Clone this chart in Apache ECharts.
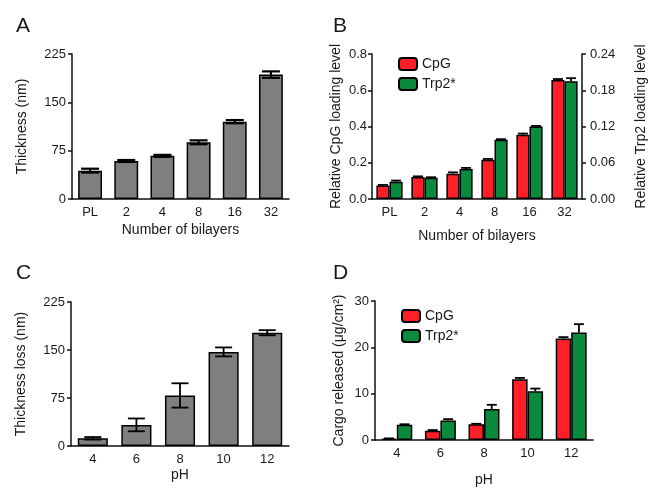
<!DOCTYPE html>
<html><head><meta charset="utf-8">
<script src="https://cdn.jsdelivr.net/npm/echarts@6/dist/echarts.min.js"></script>
<style>html,body{margin:0;padding:0;background:#fff}#c{width:649px;height:488px}</style>
</head><body><div id="c"></div>
<script>
// ---- data ----
const catsA = ['PL','2','4','8','16','32'];
const thickA = [44, 59, 67, 88, 120, 193];
const thickErrA = [3, 1.5, 1.5, 3, 2.5, 5];

const catsB = ['PL','2','4','8','16','32'];
const cpgB = [0.075, 0.122, 0.14, 0.216, 0.354, 0.657];
const cpgErrB = [0.003, 0.003, 0.007, 0.005, 0.007, 0.005];
const trp2B = [0.0285, 0.035, 0.0495, 0.098, 0.12, 0.195];
const trp2ErrB = [0.002, 0.001, 0.002, 0.001, 0.001, 0.005];

const catsC = ['4','6','8','10','12'];
const lossC = [12, 33, 79, 147, 177];
const lossErrC = [2, 10, 19, 7, 4];

const catsD = ['4','6','8','10','12'];
const cpgD = [0.3, 2.0, 3.4, 13.1, 21.9];
const cpgErrD = [0.05, 0.15, 0.1, 0.3, 0.3];
const trp2D = [3.3, 4.2, 6.7, 10.5, 23.2];
const trp2ErrD = [0.1, 0.3, 0.9, 0.6, 1.8];

const legendNames = ['CpG', 'Trp2*'];

// ---- styles ----
const FONT = 'Liberation Sans, Arial, sans-serif';
const TXT = '#1a1a1a';
const GREY = '#7f7f7f', RED = '#ff1f26', GREEN = '#0a8a3c';

function errSeries(name, xi, yi, vals, errs, off, capW, both, lw) {
  return {
    type: 'custom', name: name, xAxisIndex: xi, yAxisIndex: yi, z: 10,
    encode: {x: 0, y: 1},
    data: vals.map((v, i) => [i, v, errs[i]]),
    renderItem: function (params, api) {
      const i = api.value(0), v = api.value(1), e = api.value(2);
      const bw = api.size([1, 0])[0];
      const x = api.coord([i, v])[0] + bw * off;
      const yTop = api.coord([i, v + e])[1];
      const yBot = both ? api.coord([i, v - e])[1] : api.coord([i, v])[1];
      const st = {stroke: '#000', lineWidth: lw};
      const ch = [
        {type: 'line', shape: {x1: x, y1: yTop, x2: x, y2: yBot}, style: st},
        {type: 'line', shape: {x1: x - capW / 2, y1: yTop, x2: x + capW / 2, y2: yTop}, style: st}
      ];
      if (both) ch.push({type: 'line', shape: {x1: x - capW / 2, y1: yBot, x2: x + capW / 2, y2: yBot}, style: st});
      return {type: 'group', children: ch};
    }
  };
}

function catAxis(gi, data, nameGap) {
  return {
    type: 'category', gridIndex: gi, data: data,
    name: gi === 0 || gi === 1 ? 'Number of bilayers' : 'pH',
    nameLocation: 'middle', nameGap: nameGap,
    nameTextStyle: {fontFamily: FONT, fontSize: 14, color: TXT},
    axisLine: {lineStyle: {color: '#111', width: 1.5}},
    axisTick: {alignWithLabel: true, length: 4, lineStyle: {color: '#111', width: 1.5}},
    axisLabel: {fontFamily: FONT, fontSize: 13, color: TXT, margin: 7}
  };
}

function valAxis(gi, max, interval, name, nameGap, dec, pos, margin) {
  return {
    type: 'value', gridIndex: gi, min: 0, max: max, interval: interval,
    position: pos || 'left',
    name: name, nameLocation: 'middle', nameGap: nameGap, nameRotate: 90,
    nameTextStyle: {fontFamily: FONT, fontSize: 14, color: TXT},
    splitLine: {show: false},
    axisLine: {show: true, lineStyle: {color: '#111', width: 1.5}},
    axisTick: {show: true, length: 4, lineStyle: {color: '#111', width: 1.5}},
    axisLabel: {fontFamily: FONT, fontSize: 13, color: TXT, margin: margin,
      formatter: v => v.toFixed(dec)}
  };
}

const barStyle = c => ({color: c, borderColor: '#000', borderWidth: 1.5});

const option = {
  backgroundColor: '#fff',
  animation: false,
  title: [
    {text: 'A', left: 11, top: 11, textStyle: {fontFamily: FONT, fontSize: 21, fontWeight: 'normal', color: TXT}},
    {text: 'B', left: 328, top: 11, textStyle: {fontFamily: FONT, fontSize: 21, fontWeight: 'normal', color: TXT}},
    {text: 'C', left: 11, top: 258, textStyle: {fontFamily: FONT, fontSize: 21, fontWeight: 'normal', color: TXT}},
    {text: 'D', left: 328, top: 258, textStyle: {fontFamily: FONT, fontSize: 21, fontWeight: 'normal', color: TXT}}
  ],
  legend: [
    {data: legendNames, orient: 'vertical', left: 393, top: 52, itemWidth: 18, itemHeight: 12, itemGap: 6,
      textStyle: {fontFamily: FONT, fontSize: 14, color: TXT}, selectedMode: false},
    {data: legendNames, orient: 'vertical', left: 396, top: 304, itemWidth: 18, itemHeight: 12, itemGap: 6,
      textStyle: {fontFamily: FONT, fontSize: 14, color: TXT}, selectedMode: false}
  ],
  grid: [
    {left: 72, top: 54, width: 217, height: 145},
    {left: 372, top: 54, width: 217, height: 145},
    {left: 71, top: 302, width: 218, height: 144},
    {left: 375, top: 301, width: 218, height: 145}
  ],
  xAxis: [
    catAxis(0, catsA, 24),
    catAxis(1, catsB, 30),
    catAxis(2, catsC, 22),
    catAxis(3, catsD, 33)
  ],
  yAxis: [
    valAxis(0, 225, 75, 'Thickness (nm)', 43, 0, 'left', 6),
    valAxis(1, 0.8, 0.2, 'Relative CpG loading level', 29, 1, 'left', 5),
    valAxis(1, 0.24, 0.06, 'Relative Trp2 loading level', 52, 2, 'right', 8),
    valAxis(2, 225, 75, 'Thickness loss (nm)', 43, 0, 'left', 6),
    valAxis(3, 30, 10, 'Cargo released (\u03bcg/cm\u00b2)', 29, 0, 'left', 6)
  ],
  series: [
    {type: 'bar', name: 'thickness', xAxisIndex: 0, yAxisIndex: 0, data: thickA, barCategoryGap: '34%', itemStyle: barStyle(GREY)},
    errSeries('errA', 0, 0, thickA, thickErrA, 0, 18, true, 2.2),

    {type: 'bar', name: 'CpG', xAxisIndex: 1, yAxisIndex: 1, data: cpgB, barGap: '0%', barCategoryGap: '25%', itemStyle: barStyle(RED)},
    {type: 'bar', name: 'Trp2*', xAxisIndex: 1, yAxisIndex: 2, data: trp2B, barGap: '0%', barCategoryGap: '25%', itemStyle: barStyle(GREEN)},
    errSeries('errB1', 1, 1, cpgB, cpgErrB, -0.1875, 10, false, 1.8),
    errSeries('errB2', 1, 2, trp2B, trp2ErrB, 0.1875, 10, false, 1.8),

    {type: 'bar', name: 'loss', xAxisIndex: 2, yAxisIndex: 3, data: lossC, barCategoryGap: '31%', itemStyle: barStyle(GREY)},
    errSeries('errC', 2, 3, lossC, lossErrC, 0, 17, true, 1.8),

    {type: 'bar', name: 'CpG', xAxisIndex: 3, yAxisIndex: 4, data: cpgD, barGap: '0%', barCategoryGap: '29%', itemStyle: barStyle(RED)},
    {type: 'bar', name: 'Trp2*', xAxisIndex: 3, yAxisIndex: 4, data: trp2D, barGap: '0%', barCategoryGap: '29%', itemStyle: barStyle(GREEN)},
    errSeries('errD1', 3, 4, cpgD, cpgErrD, -0.1775, 10, false, 1.8),
    errSeries('errD2', 3, 4, trp2D, trp2ErrD, 0.1775, 10, false, 1.8)
  ]
};

const chart = echarts.init(document.getElementById('c'), null, {renderer: 'canvas'});
chart.setOption(option);
</script>
</body></html>
